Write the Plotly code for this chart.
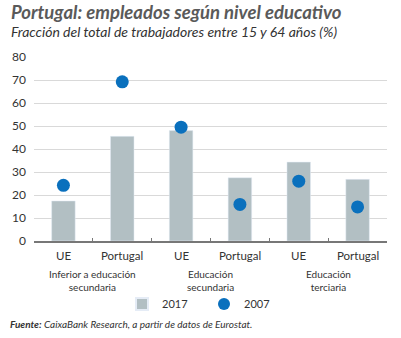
import plotly.graph_objects as go

categories = ["UE", "Portugal", "UE", "Portugal", "UE", "Portugal"]
groups = ["Inferior a educación<br>secundaria", "Educación<br>secundaria", "Educación<br>terciaria"]
values_2017 = [17.4, 45.5, 48.0, 27.5, 34.3, 26.8]
values_2007 = [24.2, 69.2, 49.5, 15.9, 26.0, 14.8]
y_ticks = [0, 10, 20, 30, 40, 50, 60, 70, 80]

W, H = 401, 338
ML, MR, MT, MB = 34, 14, 57, 97
PH = H - MT - MB
PW = W - ML - MR


def py(pix):
    # page pixel row -> paper y
    return (H - MB - pix) / PH


def px(pix):
    return (pix - ML) / PW


xpos = list(range(len(categories)))
boundaries = [i - 0.5 for i in range(len(categories) + 1)]
group_centers = [2 * i + 0.5 for i in range(len(groups))]

FONT = "Lato"
TXT = "#333333"
fig = go.Figure()
fig.add_trace(go.Bar(x=xpos, y=values_2017, name="2017", marker_color="#b2bfc3",
                     width=0.4))
fig.add_trace(go.Scatter(x=xpos, y=values_2007, name="2007", mode="markers",
                         marker=dict(color="#0a70bd", size=13)))

annotations = []
for x, lab in zip(xpos, categories):
    annotations.append(dict(x=x, y=py(255), xref="x", yref="paper", text=lab, showarrow=False,
                            yanchor="middle", font=dict(size=11.5, color=TXT, family=FONT)))
for x, lab in zip(group_centers, groups):
    annotations.append(dict(x=x, y=py(280), xref="x", yref="paper", text=lab, showarrow=False,
                            yanchor="middle", font=dict(size=10, color=TXT, family=FONT)))
annotations.append(dict(x=px(9), y=py(12), xref="paper", yref="paper", xanchor="left", yanchor="middle",
                        text="<b><i>Portugal: empleados según nivel educativo</i></b>",
                        showarrow=False, font=dict(size=18.5, color="#5a5a5a", family=FONT)))
annotations.append(dict(x=px(9), y=py(31), xref="paper", yref="paper", xanchor="left", yanchor="middle",
                        text="<i>Fracción del total de trabajadores entre 15 y 64 años (%)</i>",
                        showarrow=False, font=dict(size=14, color=TXT, family=FONT)))
annotations.append(dict(x=px(8), y=py(324), xref="paper", yref="paper", xanchor="left", yanchor="middle",
                        text="<b><i>Fuente:</i></b><i> CaixaBank Research, a partir de datos de Eurostat.</i>",
                        showarrow=False, font=dict(size=10, color=TXT, family=FONT)))

fig.update_layout(
    width=W, height=H,
    margin=dict(l=ML, r=MR, t=MT, b=MB),
    paper_bgcolor="white", plot_bgcolor="white",
    showlegend=True,
    annotations=annotations,
    legend=dict(orientation="h", x=px(122), xanchor="left", y=py(304), yanchor="middle",
                font=dict(size=11, color=TXT, family=FONT), itemsizing="constant",
                entrywidth=37, entrywidthmode="pixels", bgcolor="rgba(0,0,0,0)"),
    xaxis=dict(range=[-0.5, 5.5], tickmode="array", tickvals=boundaries, showticklabels=False,
               ticks="inside", ticklen=3, tickcolor="#777777", showgrid=False,
               showline=True, linecolor="#777777", linewidth=1.5, zeroline=False, fixedrange=True),
    yaxis=dict(range=[0, 80], tickmode="array", tickvals=y_ticks, showline=False,
               gridcolor="#d9d9d9", gridwidth=1, zeroline=False, ticks="", ticklabelstandoff=7,
               tickfont=dict(size=12, color=TXT, family=FONT), fixedrange=True),
    font=dict(family=FONT),
)
fig.write_html("out.html")
